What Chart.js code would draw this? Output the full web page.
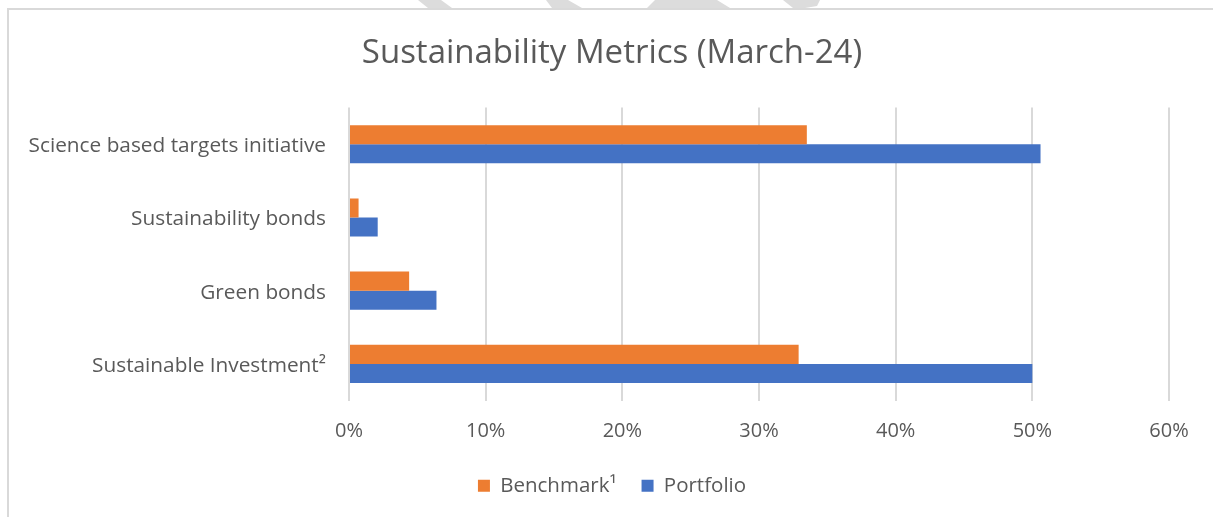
<!DOCTYPE html>
<html>
<head>
<meta charset="utf-8">
<title>Sustainability Metrics (March-24)</title>
<script src="https://cdn.jsdelivr.net/npm/chart.js@4.4.1/dist/chart.umd.min.js"></script>
<style>
  html, body { margin: 0; padding: 0; background: #ffffff; }
  #wrap { width: 1213px; height: 517px; position: relative; }
</style>
</head>
<body>
<div id="wrap"><canvas id="myChart" width="1213" height="517"></canvas></div>
<script>
// Chart data (values in %)
const categories = [
    "Science based targets initiative",
    "Sustainability bonds",
    "Green bonds",
    "Sustainable Investment\u00B2"
];
const benchmarkValues = [33.5, 0.7, 4.4, 32.9];
const portfolioValues = [50.6, 2.1, 6.4, 50.0];
const xTickValues = [0, 10, 20, 30, 40, 50, 60];

const textColor = '#595959';
const gridColor = '#d9d9d9';
const fontFamily = '"Open Sans", sans-serif';

// Frame around the chart plus the faint watermark bits at the top edge
const framePlugin = {
    id: 'frame',
    afterLayout(chart) {
        // let the long category labels and the % labels run outside their boxes
        const y = chart.scales.y;
        y.left = 0;
        y.width = y.right - y.left;
        const x = chart.scales.x;
        x.bottom = chart.height;
        x.height = x.bottom - x.top;
    },
    beforeDraw(chart) {
        const c = chart.ctx;
        c.save();
        c.fillStyle = '#ffffff';
        c.fillRect(0, 0, chart.width, chart.height);
        c.strokeStyle = gridColor;
        c.lineWidth = 2;
        c.strokeRect(8, 9, chart.width + 20, chart.height + 20);
        c.fillStyle = '#dcdcdc';
        const shapes = [
            [[418, 0], [441, 0], [452, 8], [428, 8]],
            [[546, 0], [568, 0], [582, 8], [552, 8]],
            [[655, 0], [717, 0], [730, 8], [647, 8]],
            [[783, 0], [820, 0], [817, 6], [805, 8], [793, 8]]
        ];
        shapes.forEach(function(s) {
            c.beginPath();
            c.moveTo(s[0][0], s[0][1]);
            for (let i = 1; i < s.length; i++) c.lineTo(s[i][0], s[i][1]);
            c.closePath();
            c.fill();
        });
        c.restore();
    }
};

const ctx = document.getElementById('myChart').getContext('2d');
const myChart = new Chart(ctx, {
    type: 'bar',
    data: {
        labels: categories,
        datasets: [
            {
                label: 'Benchmark\u00B9',
                data: benchmarkValues,
                backgroundColor: '#ED7D31',
                borderWidth: 0,
                categoryPercentage: 0.52,
                barPercentage: 1.0
            },
            {
                label: 'Portfolio',
                data: portfolioValues,
                backgroundColor: '#4472C4',
                borderWidth: 0,
                categoryPercentage: 0.52,
                barPercentage: 1.0
            }
        ]
    },
    options: {
        indexAxis: 'y',
        responsive: false,
        animation: false,
        layout: {
            padding: { left: 55, right: 44, top: 0, bottom: 11 }
        },
        scales: {
            x: {
                min: 0,
                max: 60,
                afterBuildTicks: function(scale) {
                    scale.ticks = xTickValues.map(v => ({ value: v }));
                },
                afterFit: function(scale) {
                    scale.height = 50;
                },
                grid: {
                    color: gridColor,
                    lineWidth: 2,
                    drawTicks: false
                },
                border: { display: false },
                ticks: {
                    padding: 19,
                    color: textColor,
                    font: { family: fontFamily, size: 20 },
                    callback: function(v) { return v + '%'; }
                }
            },
            y: {
                afterFit: function(scale) {
                    scale.width = 294;
                },
                grid: { display: false, drawTicks: false },
                border: { display: false },
                ticks: {
                    padding: 23,
                    labelOffset: 2,
                    color: textColor,
                    font: { family: fontFamily, size: 20.8 }
                }
            }
        },
        plugins: {
            title: {
                display: true,
                text: 'Sustainability Metrics (March-24)',
                color: textColor,
                font: { family: fontFamily, size: 33, weight: 'normal' },
                padding: { top: 34, bottom: 34 }
            },
            legend: {
                position: 'bottom',
                labels: {
                    color: textColor,
                    font: { family: fontFamily, size: 20.5 },
                    boxWidth: 12,
                    boxHeight: 12,
                    padding: 25
                }
            },
            tooltip: { enabled: false }
        }
    },
    plugins: [framePlugin]
});
</script>
</body>
</html>
